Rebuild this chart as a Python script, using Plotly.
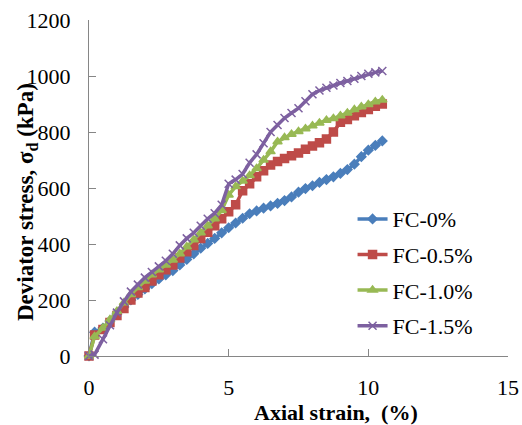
import plotly.graph_objects as go

strain = [0, 0.2, 0.5, 0.75, 1.0, 1.25, 1.5, 1.75, 2.0, 2.25, 2.5, 2.75, 3.0, 3.25, 3.5,
          3.75, 4.0, 4.25, 4.5, 4.75, 5.0, 5.25, 5.5, 5.75, 6.0, 6.25, 6.5, 6.75, 7.0,
          7.25, 7.5, 7.75, 8.0, 8.25, 8.5, 8.75, 9.0, 9.25, 9.5, 9.75, 10.0, 10.25, 10.5]

fc_0 = [0, 85, 100, 125, 150, 175, 200, 220, 240, 258, 275, 290, 305, 325, 345,
        365, 385, 402, 420, 440, 458, 475, 492, 508, 518, 528, 536, 545, 555,
        568, 585, 598, 608, 620, 630, 640, 652, 666, 685, 712, 735, 752, 768]

fc_05 = [0, 75, 95, 120, 145, 170, 200, 225, 245, 268, 290, 308, 325, 350, 372,
         395, 420, 442, 465, 490, 515, 540, 590, 615, 640, 662, 682, 695, 705,
         715, 725, 738, 750, 762, 775, 800, 835, 845, 858, 870, 880, 892, 900]

fc_10 = [0, 70, 100, 130, 160, 190, 220, 245, 268, 290, 308, 325, 343, 365, 390,
         415, 440, 465, 490, 520, 575, 605, 625, 645, 670, 700, 730, 765, 780,
         792, 802, 812, 822, 832, 842, 848, 858, 868, 880, 890, 898, 908, 914]

fc_15 = [0, 5, 60, 110, 155, 195, 230, 255, 280, 300, 320, 340, 365, 395, 420,
         440, 465, 490, 510, 540, 615, 630, 650, 690, 720, 760, 800, 825, 850,
         868, 885, 910, 935, 948, 958, 966, 975, 982, 990, 1000, 1008, 1013, 1018]

names = ["FC-0%", "FC-0.5%", "FC-1.0%", "FC-1.5%"]
series = [fc_0, fc_05, fc_10, fc_15]
colors = ["#4A7EBB", "#BE4B48", "#98B954", "#7D60A0"]
symbols = ["diamond", "square", "triangle-up", "x-thin"]
msizes = [7, 8, 8, 8]

FONT = "Liberation Serif"

fig = go.Figure()
for i, (n, s) in enumerate(zip(names, series)):
    fig.add_trace(go.Scatter(
        x=strain, y=s, name=n, mode="lines+markers",
        line=dict(color=colors[i], width=3.5),
        marker=dict(symbol=symbols[i], size=msizes[i], color=colors[i],
                    line=dict(color=colors[i], width=1.5)),
        cliponaxis=False, legendgroup=n,
    ))

axis_color = "#868686"
fig.update_layout(
    width=522, height=425,
    margin=dict(l=89, r=14, t=20, b=69, autoexpand=False),
    paper_bgcolor="white", plot_bgcolor="white",
    font=dict(family=FONT, size=22, color="black"),
    showlegend=True,
    legend=dict(x=0.629, y=0.47, xanchor="left", yanchor="top",
                font=dict(family=FONT, size=22, color="black"),
                bgcolor="rgba(0,0,0,0)", tracegroupgap=4,
                traceorder="grouped"),
    xaxis=dict(range=[0, 15], tickvals=[0, 5, 10, 15], ticks="inside", ticklen=7,
               tickcolor=axis_color, showline=True, linecolor=axis_color, linewidth=1,
               showgrid=False, zeroline=False, ticklabelstandoff=12,
               tickfont=dict(family=FONT, size=22)),
    yaxis=dict(range=[0, 1200], tickvals=[0, 200, 400, 600, 800, 1000, 1200],
               ticks="inside", ticklen=7, tickcolor=axis_color, showline=True,
               linecolor=axis_color, linewidth=1, showgrid=False, zeroline=False,
               ticklabelstandoff=13, tickfont=dict(family=FONT, size=22)),
    annotations=[
        dict(text="<b>Axial strain,  (%)</b>", xref="paper", yref="paper",
             x=(336 - 89) / 419, y=-(412 - 356) / 336, xanchor="center", yanchor="middle",
             showarrow=False, font=dict(family=FONT, size=22)),
        dict(text="<b>Deviator stress, σ<sub>d</sub> (kPa)</b>", xref="paper", yref="paper",
             x=-(89 - 27) / 419, y=(356 - 202) / 336, xanchor="center", yanchor="middle",
             textangle=-90, showarrow=False, font=dict(family=FONT, size=23)),
    ],
)

fig.write_html("out.html", config={"displayModeBar": False},
               post_script="document.body.style.margin='0';")
